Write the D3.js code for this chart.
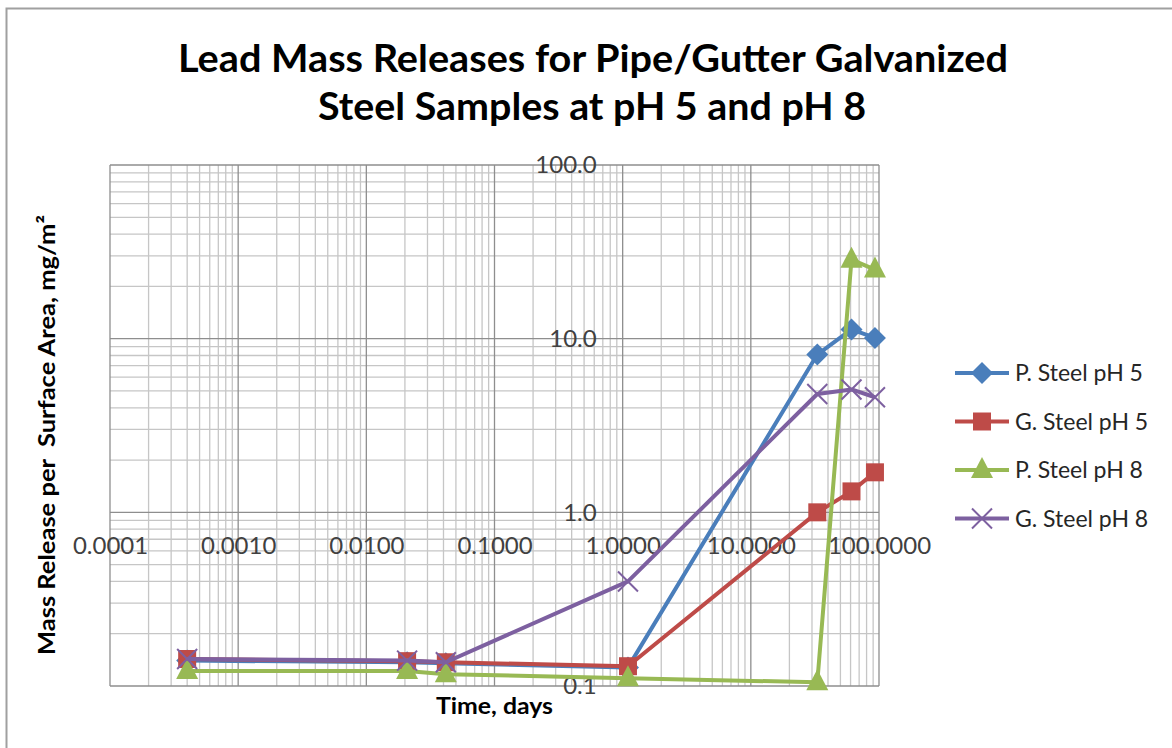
<!DOCTYPE html>
<html>
<head>
<meta charset="utf-8">
<script src="https://cdn.jsdelivr.net/npm/d3@7"></script>
<style>
  body { margin: 0; background: #fff; }
  text { font-family: Lato, "Open Sans", sans-serif; }
</style>
</head>
<body>
<div class="canvas"></div>
<script>
/**
 * Data
 */
const days = [0.0004, 0.0208, 0.0417, 1.1, 33, 61, 93]
const pSteelPH5 = [0.140, 0.137, 0.135, 0.128, 8.1, 11.3, 10.1]
const gSteelPH5 = [0.143, 0.139, 0.137, 0.130, 1.0, 1.32, 1.70]
const pSteelPH8 = [0.122, 0.122, 0.117, 0.111, 0.105, 28.5, 25.0]
const gSteelPH8 = [0.143, 0.140, 0.137, 0.40, 4.8, 5.1, 4.6]

const seriesNames = ["P. Steel pH 5", "G. Steel pH 5", "P. Steel pH 8", "G. Steel pH 8"]
const seriesValues = [pSteelPH5, gSteelPH5, pSteelPH8, gSteelPH8]
const seriesColors = ["#4a7ebb", "#be4b48", "#98b954", "#7d60a0"]
const seriesMarkers = ["diamond", "square", "triangle", "x"]

const xMajors = [0.0001, 0.001, 0.01, 0.1, 1, 10, 100]
const yMajors = [0.1, 1, 10, 100]

/**
 * Dimensions
 */
const dims = { width: 1172, height: 748 }
const plot = { left: 110, right: 879, top: 165, bottom: 686 }

const svg = d3.select(".canvas")
    .append("svg")
    .attr("width", dims.width)
    .attr("height", dims.height)

// chart border
svg.append("rect")
    .attr("x", 6.5).attr("y", 8.5)
    .attr("width", 1300).attr("height", 900)
    .attr("fill", "none")
    .attr("stroke", "#a0a0a0")
    .attr("stroke-width", 2)

/**
 * Scales
 */
const x = d3.scaleLog().domain([0.0001, 100]).range([plot.left, plot.right])
const y = d3.scaleLog().domain([0.1, 100]).range([plot.bottom, plot.top])

const isMajor = (v, majors) => majors.some(m => Math.abs(Math.log10(v) - Math.log10(m)) < 1e-6)

// gridlines: minor first, then major on top
const grid = svg.append("g")
const xTicks = x.ticks()
const yTicks = y.ticks()

grid.selectAll(".vminor")
    .data(xTicks.filter(d => !isMajor(d, xMajors)))
    .enter().append("line")
    .attr("x1", d => x(d)).attr("x2", d => x(d))
    .attr("y1", plot.top).attr("y2", plot.bottom)
    .attr("stroke", "#c6c6c6").attr("stroke-width", 1.3)

grid.selectAll(".hminor")
    .data(yTicks.filter(d => !isMajor(d, yMajors)))
    .enter().append("line")
    .attr("y1", d => y(d)).attr("y2", d => y(d))
    .attr("x1", plot.left).attr("x2", plot.right)
    .attr("stroke", "#c6c6c6").attr("stroke-width", 1.3)

grid.selectAll(".vmajor")
    .data(xMajors)
    .enter().append("line")
    .attr("x1", d => x(d)).attr("x2", d => x(d))
    .attr("y1", plot.top).attr("y2", plot.bottom)
    .attr("stroke", "#8e8e8e").attr("stroke-width", 1.3)

grid.selectAll(".hmajor")
    .data(yMajors)
    .enter().append("line")
    .attr("y1", d => y(d)).attr("y2", d => y(d))
    .attr("x1", plot.left).attr("x2", plot.right)
    .attr("stroke", "#8e8e8e").attr("stroke-width", 1.3)

/**
 * Axes (cross at 1 / 1 like the Excel original)
 */
const xAxis = svg.append("g")
    .attr("transform", `translate(0, ${y(1)})`)
    .call(d3.axisBottom(x).tickValues(xMajors).tickFormat(d3.format(".4f")).tickSize(0).tickPadding(25))
const yAxis = svg.append("g")
    .attr("transform", `translate(${x(1)}, 0)`)
    .call(d3.axisLeft(y).tickValues(yMajors).tickFormat(d3.format(".1f")).tickSize(0).tickPadding(26))

;[xAxis, yAxis].forEach(a => {
    a.select(".domain").remove()
    a.selectAll("text")
        .attr("font-family", "Lato, 'Open Sans', sans-serif")
        .attr("font-size", 24)
        .attr("fill", "#404040")
})

/**
 * Markers
 */
const markerPath = (type) => {
    switch (type) {
        case "diamond": return "M0,-11L11,0L0,11L-11,0Z"
        case "square": return "M-9,-9H9V9H-9Z"
        case "triangle": return "M0,-13L11,8L-11,8Z"
        case "x": return "M-10,-10L10,10M-10,10L10,-10"
        default: return ""
    }
}

const drawMarker = (g, type, color) => {
    g.append("path")
        .attr("d", markerPath(type))
        .attr("fill", type === "x" ? "none" : color)
        .attr("stroke", color)
        .attr("stroke-width", type === "x" ? 2 : 0)
}

/**
 * Series
 */
const line = d3.line()
    .x(d => x(d.day))
    .y(d => y(d.value))

seriesValues.forEach((vals, i) => {
    const pts = days.map((day, j) => ({ day, value: vals[j] }))
    const g = svg.append("g")
    g.append("path")
        .attr("d", line(pts))
        .attr("fill", "none")
        .attr("stroke", seriesColors[i])
        .attr("stroke-width", 4)
        .attr("stroke-linejoin", "round")
    g.selectAll(".pt")
        .data(pts)
        .enter().append("g")
        .attr("transform", d => `translate(${x(d.day)}, ${y(d.value)})`)
        .each(function () { drawMarker(d3.select(this), seriesMarkers[i], seriesColors[i]) })
})

/**
 * Legend
 */
const legend = svg.append("g").attr("transform", "translate(955, 373)")
seriesNames.forEach((name, i) => {
    const item = legend.append("g").attr("transform", `translate(0, ${i * 48.5})`)
    item.append("line")
        .attr("x1", 0).attr("x2", 54)
        .attr("stroke", seriesColors[i]).attr("stroke-width", 4)
    drawMarker(item.append("g").attr("transform", "translate(27, 0)"), seriesMarkers[i], seriesColors[i])
    item.append("text")
        .attr("x", 60).attr("dy", "0.35em")
        .attr("font-size", 23)
        .attr("fill", "#262626")
        .text(name)
})

/**
 * Titles
 */
const title = svg.append("g").attr("font-weight", "bold").attr("fill", "#000")
title.append("text")
    .attr("x", 593).attr("y", 72)
    .attr("text-anchor", "middle")
    .attr("font-size", 38)
    .attr("textLength", 830).attr("lengthAdjust", "spacingAndGlyphs")
    .text("Lead Mass Releases for Pipe/Gutter Galvanized")
title.append("text")
    .attr("x", 592).attr("y", 120)
    .attr("text-anchor", "middle")
    .attr("font-size", 38)
    .attr("textLength", 548).attr("lengthAdjust", "spacingAndGlyphs")
    .text("Steel Samples at pH 5 and pH 8")

svg.append("text")
    .attr("x", (plot.left + plot.right) / 2).attr("y", 714)
    .attr("text-anchor", "middle")
    .attr("font-size", 23).attr("font-weight", "bold")
    .attr("textLength", 117).attr("lengthAdjust", "spacingAndGlyphs")
    .text("Time, days")

svg.append("text")
    .attr("transform", "translate(55, 435) rotate(-90)")
    .attr("text-anchor", "middle")
    .attr("font-size", 23).attr("font-weight", "bold")
    .style("white-space", "pre")
    .attr("textLength", 440).attr("lengthAdjust", "spacingAndGlyphs")
    .text("Mass Release per  Surface Area, mg/m²")
</script>
</body>
</html>
